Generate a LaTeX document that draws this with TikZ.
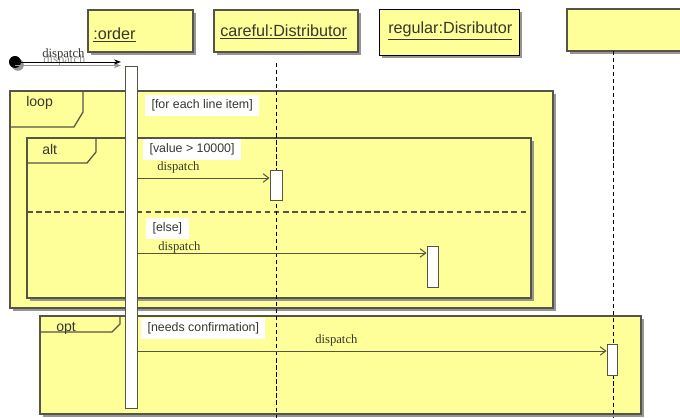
\documentclass[tikz,border=0pt]{standalone}
\usepackage{fontspec}
\setmainfont{Liberation Serif}
\setsansfont{Liberation Sans}
\usepackage{tikz}
\usetikzlibrary{calc,positioning,arrows.meta,shadows}
\definecolor{umlyellow}{RGB}{255,255,153}
\definecolor{umlline}{RGB}{85,85,70}
\definecolor{umltext}{RGB}{55,55,45}
\definecolor{umlshadow}{RGB}{150,150,150}

\begin{document}
\begin{tikzpicture}[x=0.025cm,y=-0.025cm,
	boxshadow/.style={drop shadow={shadow xshift=2pt,shadow yshift=-2pt,fill=umlshadow,opacity=1}},
	headbox/.style={boxshadow,draw=umlline,fill=umlyellow,line width=0.8pt},
	headlbl/.style={anchor=west,inner sep=0pt,text=umltext,font=\sffamily\fontsize{11.5}{13}\selectfont},
	fragment/.style={boxshadow,draw=umlline,fill=umlyellow,line width=0.9pt},
	fragtab/.style={umlline,line width=0.9pt},
	fraglbl/.style={anchor=west,inner sep=0pt,text=umltext,font=\sffamily\fontsize{10}{12}\selectfont},
	guard/.style={anchor=west,fill=white,inner xsep=4.5pt,inner ysep=3.2pt,text=umltext,font=\sffamily\fontsize{8.8}{10}\selectfont},
	lifeline/.style={black,line width=0.6pt,dash pattern=on 3pt off 2pt},
	actbar/.style={draw=umlline,fill=white,line width=0.7pt,inner sep=0pt},
	msg/.style={umlline,line width=0.7pt,-{Straight Barb[length=4pt,width=6pt]}},
	msglbl/.style={anchor=west,inner sep=0pt,text=umltext,font=\fontsize{9}{11}\selectfont}
	]
	\useasboundingbox (0,0) rectangle (680,418);
	\node[headbox,minimum width=2.625cm,minimum height=1.05cm] (orderbox) at (140.5,31) {};
	\node[headbox,minimum width=3.6cm,minimum height=1.05cm] (carefulbox) at (286,31) {};
	\node[headbox,draw=black,line width=0.6pt,minimum width=3.5cm,minimum height=1.15cm] (regularbox) at (449,32) {};
	\node[headbox,minimum width=3.075cm,minimum height=1.05cm] (rightbox) at (628.5,30) {};
	\node[headlbl] (orderlbl) at (93,35) {\underline{:order}};
	\node[headlbl] (carefullbl) at (220,32) {\underline{careful:Distributor}};
	\node[headlbl] (regularlbl) at (388,31) {\underline{regular:Disributor}};
	
	\node[circle,fill=black,inner sep=0pt,minimum size=0.3cm,boxshadow] (start) at (15,62) {};
	\coordinate (startend) at (121,62);
	\draw[umlshadow,line width=0.7pt,-{Stealth[length=5pt]}] ([yshift=-2.5pt]start.center) -- ([yshift=-2.5pt]startend);
	\node[msglbl,text=umlshadow] (startshade) at (43,60) {dispatch};
	\draw[black,line width=0.7pt,-{Stealth[length=5pt]}] (start) -- (startend);
	\node[msglbl] (startlbl) at (42,54.5) {dispatch};
	
	\draw[fragment] (10,91) rectangle (553,308);
	\draw[fragtab] (10,127) -- (74,127) -- (83,112) -- (83,91);
	\node[fraglbl] (looplbl) at (26,103) {loop};
	\node[guard] (loopguard) at (145,105.5) {[for each line item]};
	
	\draw[fragment] (27,138) rectangle (531,298);
	\draw[fragtab] (27,163) -- (87,163) -- (96,152) -- (96,138);
	\node[fraglbl] (altlbl) at (42,149) {alt};
	\node[guard] (altguard) at (143,149.5) {[value > 10000]};
	\draw[fragtab,dash pattern=on 4pt off 2.5pt] (27,212) -- (531,212);
	\node[guard] (elseguard) at (146,228.5) {[else]};
	
	\draw[fragment] (40,316) rectangle (641,414);
	\draw[fragtab] (40,332) -- (112,332) -- (120,324) -- (120,316);
	\node[fraglbl] (optlbl) at (56,328) {opt};
	\node[guard] (optguard) at (141,328.5) {[needs confirmation]};
	
	\coordinate (carefultop) at (276,63);
	\coordinate (carefulend) at (276,418);
	\coordinate (righttop) at (613,51);
	\coordinate (rightend) at (613,418);
	\draw[lifeline] (carefultop) -- (carefulend);
	\draw[lifeline] (righttop) -- (rightend);
	
	\node[actbar,minimum width=0.3cm,minimum height=8.525cm] (actorder) at (131,237.5) {};
	\node[actbar,minimum width=0.3cm,minimum height=0.725cm] (actcareful) at (carefultop |- 0,185.5) {};
	\node[actbar,minimum width=0.275cm,minimum height=1cm] (actregular) at (432.5,267) {};
	\node[actbar,minimum width=0.25cm,minimum height=0.75cm] (actright) at (612,360) {};
	
	\coordinate (m1) at (0,178);
	\coordinate (m2) at (0,253);
	\coordinate (m3) at (0,351);
	\draw[msg] (actorder.east |- m1) -- (actcareful.west |- m1);
	\node[msglbl] (m1lbl) at (157,167) {dispatch};
	\draw[msg] (actorder.east |- m2) -- (actregular.west |- m2);
	\node[msglbl] (m2lbl) at (158,247.5) {dispatch};
	\draw[msg] (actorder.east |- m3) -- (actright.west |- m3);
	\node[msglbl] (m3lbl) at (315,340.5) {dispatch};
\end{tikzpicture}
\end{document}
